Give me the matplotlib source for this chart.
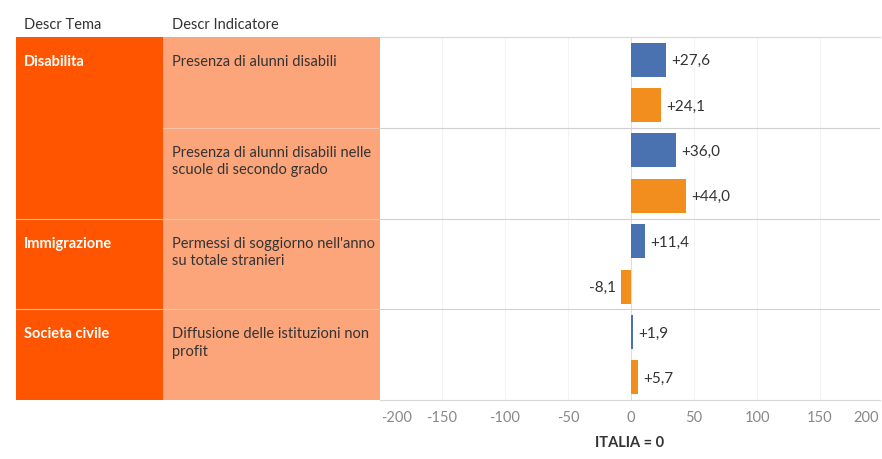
import matplotlib.pyplot as plt
import matplotlib.transforms as mtransforms
import numpy as np

# dati
temi = ['Disabilita', 'Immigrazione', 'Societa civile']
temi_righe = [(0, 2), (2, 3), (3, 4)]  # righe (indicatori) occupate da ogni tema
indicatori = ['Presenza di alunni disabili',
              'Presenza di alunni disabili nelle\nscuole di secondo grado',
              "Permessi di soggiorno nell'anno\nsu totale stranieri",
              'Diffusione delle istituzioni non\nprofit']
valori_blu = [27.6, 36.0, 11.4, 1.9]
valori_arancio = [24.1, 44.0, -8.1, 5.7]
ticks = [-150, -100, -50, 0, 50, 100, 150]
ticks_bordo = [-200, 200]

plt.rcParams['font.family'] = ['Lato', 'DejaVu Sans']

col_tema = '#ff5500'
col_ind = '#fda57a'
blu = '#4a72b0'
arancio = '#f28e1e'

fig = plt.figure(figsize=(8.82, 4.59), dpi=100)
W, H = 882, 459
top, bottom = 37, 400

# tabella a sinistra
ax_t = fig.add_axes([16 / W, 1 - bottom / H, (380 - 16) / W, (bottom - top) / H])
ax_t.set_xlim(16, 380)
ax_t.set_ylim(len(indicatori), 0)
ax_t.axis('off')
ax_t.add_patch(plt.Rectangle((16, 0), 163 - 16, len(indicatori), color=col_tema, lw=0))
ax_t.add_patch(plt.Rectangle((163, 0), 380 - 163, len(indicatori), color=col_ind, lw=0))
for t, (a, b) in zip(temi, temi_righe):
    ax_t.text(24, a + 0.2, t, color='white', fontsize=10.5, fontweight='bold', va='top')
    if a > 0:
        ax_t.axhline(a, color='#f3c2aa', lw=0.8)
for i, ind in enumerate(indicatori):
    ax_t.text(172, i + 0.2, ind, color='#333333', fontsize=10.5, va='top', linespacing=1.3)
    if i > 0:
        ax_t.plot([163, 380], [i, i], color='#f3c2aa', lw=0.8)

fig.text(24 / W, 1 - 25 / H, 'Descr Tema', fontsize=10.5, color='#333333', va='center')
fig.text(172 / W, 1 - 25 / H, 'Descr Indicatore', fontsize=10.5, color='#333333', va='center')

# grafico a barre
ax = fig.add_axes([380 / W, 1 - bottom / H, 500 / W, (bottom - top) / H])
y = np.arange(len(indicatori))
h = 0.375
ax.barh(y + 0.25, valori_blu, height=h, color=blu)
ax.barh(y + 0.75, valori_arancio, height=h, color=arancio)

for yy, v in list(zip(y + 0.25, valori_blu)) + list(zip(y + 0.75, valori_arancio)):
    lab = ('+' if v >= 0 else '') + f'{v:.1f}'.replace('.', ',')
    if v >= 0:
        ax.text(v + 4, yy, lab, va='center_baseline', ha='left', fontsize=11, color='#333333')
    else:
        ax.text(v - 4, yy, lab, va='center_baseline', ha='right', fontsize=11, color='#333333')

ax.set_xlim(-199.2, 197.6)
ax.set_ylim(len(indicatori), 0)
ax.set_xticks(ticks)
ax.set_xticklabels([str(t) for t in ticks], color='#888888', fontsize=10.5)
ax.tick_params(axis='x', length=0, pad=8)
# etichette di bordo spostate verso l'interno (come nell'originale)
trans = mtransforms.blended_transform_factory(ax.transAxes, ax.transAxes)
ax.text(0.034, -0.0305, str(ticks_bordo[0]), transform=trans, ha='center', va='top',
        color='#888888', fontsize=10.5)
ax.text(0.972, -0.0305, str(ticks_bordo[1]), transform=trans, ha='center', va='top',
        color='#888888', fontsize=10.5)
ax.set_yticks([])
for t in ticks:
    ax.axvline(t, color='#dddddd' if t == 0 else '#f3f3f3', lw=0.8, zorder=0)
for i in range(1, len(indicatori)):
    ax.axhline(i, color='#d0d0d0', lw=0.8)
for s in ['left', 'right']:
    ax.spines[s].set_visible(False)
for s in ['top', 'bottom']:
    ax.spines[s].set_color('#d8d8d8')
    ax.spines[s].set_linewidth(0.8)
ax.set_xlabel('ITALIA = 0', fontsize=10.5, fontweight='bold', color='#333333', labelpad=8)

plt.savefig('out.png', dpi=100)
